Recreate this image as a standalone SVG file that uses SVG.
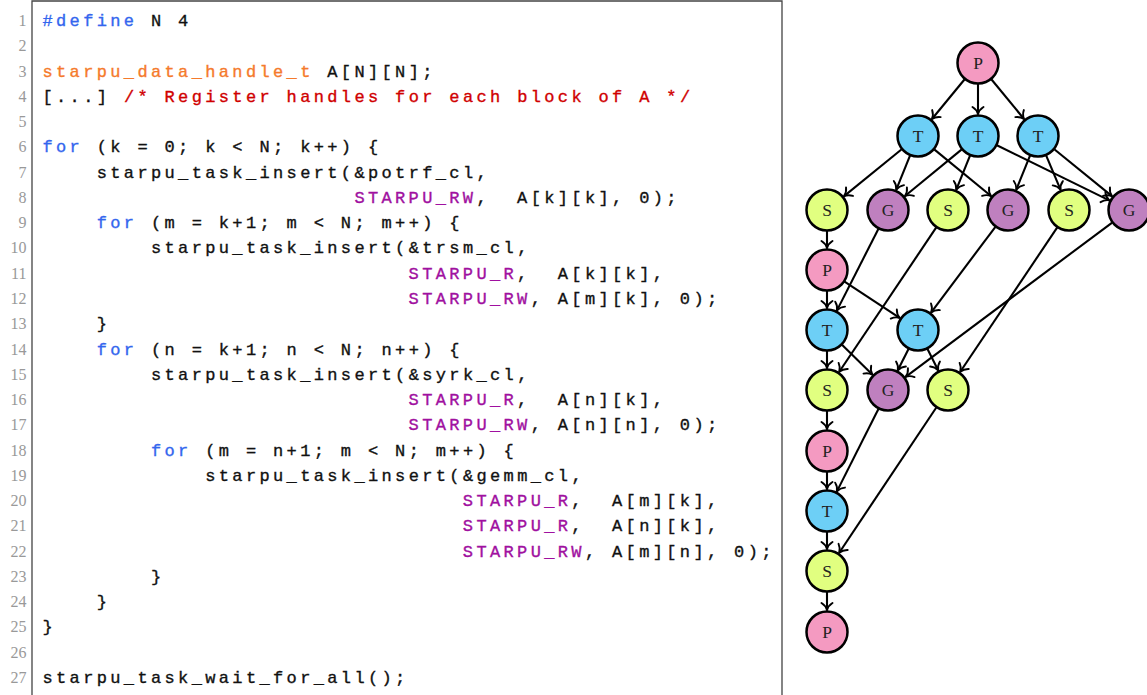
<svg xmlns="http://www.w3.org/2000/svg" width="1147" height="695" viewBox="0 0 1147 695">
<style>
.code{font-family:"Liberation Mono",monospace;font-size:17px;letter-spacing:3.36px;fill:#111;stroke:#111;stroke-width:0.35px;white-space:pre}
.code .kw{fill:#3366ee;stroke:#3366ee}
.code .ty{fill:#f57a2c;stroke:#f57a2c}
.code .cm{fill:#d00000;stroke:#d00000}
.code .mac{fill:#a010a0;stroke:#a010a0}
.ln{font-family:"Liberation Serif",serif;font-size:16px;fill:#999;text-anchor:end}
.frame{stroke:#444;stroke-width:1.3;fill:none}
.node circle{stroke:#000;stroke-width:2.5}
.node text{font-family:"Liberation Serif",serif;font-size:17.5px;fill:#222;text-anchor:middle;dominant-baseline:central}
.P{fill:#f49ac1}.T{fill:#6dcff6}.S{fill:#e1ff80}.G{fill:#bf80bf}
.edges line{stroke:#000;stroke-width:2.1;marker-end:url(#arr)}
</style>
<defs>
<marker id="arr" markerUnits="userSpaceOnUse" viewBox="-9 -7 10 14" refX="0" refY="0" markerWidth="10" markerHeight="14" orient="auto">
<path d="M -7,-5.5 C -5,-2.3 -2,-0.6 0,0 C -2,0.6 -5,2.3 -7,5.5" fill="none" stroke="#000" stroke-width="1.9" stroke-linecap="round"/>
</marker>
</defs>
<rect width="1147" height="695" fill="#fff"/>
<g id="code-frame">
<polyline class="frame" points="32,695 32,1 782,1 782,695"/>
</g>
<g id="line-numbers">
<text class="ln" x="26.5" y="26">1</text>
<text class="ln" x="26.5" y="51.27">2</text>
<text class="ln" x="26.5" y="76.54">3</text>
<text class="ln" x="26.5" y="101.81">4</text>
<text class="ln" x="26.5" y="127.08">5</text>
<text class="ln" x="26.5" y="152.35">6</text>
<text class="ln" x="26.5" y="177.62">7</text>
<text class="ln" x="26.5" y="202.89">8</text>
<text class="ln" x="26.5" y="228.16">9</text>
<text class="ln" x="26.5" y="253.43">10</text>
<text class="ln" x="26.5" y="278.7">11</text>
<text class="ln" x="26.5" y="303.97">12</text>
<text class="ln" x="26.5" y="329.24">13</text>
<text class="ln" x="26.5" y="354.51">14</text>
<text class="ln" x="26.5" y="379.78">15</text>
<text class="ln" x="26.5" y="405.05">16</text>
<text class="ln" x="26.5" y="430.32">17</text>
<text class="ln" x="26.5" y="455.59">18</text>
<text class="ln" x="26.5" y="480.86">19</text>
<text class="ln" x="26.5" y="506.13">20</text>
<text class="ln" x="26.5" y="531.4">21</text>
<text class="ln" x="26.5" y="556.67">22</text>
<text class="ln" x="26.5" y="581.94">23</text>
<text class="ln" x="26.5" y="607.21">24</text>
<text class="ln" x="26.5" y="632.48">25</text>
<text class="ln" x="26.5" y="657.75">26</text>
<text class="ln" x="26.5" y="683.02">27</text>
</g>
<g id="code" xml:space="preserve">
<text class="code" x="42.5" y="26"><tspan class="kw">#define</tspan> N 4</text>
<text class="code" x="42.5" y="76.54"><tspan class="ty">starpu_data_handle_t</tspan> A[N][N];</text>
<text class="code" x="42.5" y="101.81">[...] <tspan class="cm">/* Register handles for each block of A */</tspan></text>
<text class="code" x="42.5" y="152.35"><tspan class="kw">for</tspan> (k = 0; k &lt; N; k++) {</text>
<text class="code" x="96.74" y="177.62">starpu_task_insert(&amp;potrf_cl,</text>
<text class="code" x="354.38" y="202.89"><tspan class="mac">STARPU_RW</tspan>,  A[k][k], 0);</text>
<text class="code" x="96.74" y="228.16"><tspan class="kw">for</tspan> (m = k+1; m &lt; N; m++) {</text>
<text class="code" x="150.98" y="253.43">starpu_task_insert(&amp;trsm_cl,</text>
<text class="code" x="408.62" y="278.7"><tspan class="mac">STARPU_R</tspan>,  A[k][k],</text>
<text class="code" x="408.62" y="303.97"><tspan class="mac">STARPU_RW</tspan>, A[m][k], 0);</text>
<text class="code" x="96.74" y="329.24">}</text>
<text class="code" x="96.74" y="354.51"><tspan class="kw">for</tspan> (n = k+1; n &lt; N; n++) {</text>
<text class="code" x="150.98" y="379.78">starpu_task_insert(&amp;syrk_cl,</text>
<text class="code" x="408.62" y="405.05"><tspan class="mac">STARPU_R</tspan>,  A[n][k],</text>
<text class="code" x="408.62" y="430.32"><tspan class="mac">STARPU_RW</tspan>, A[n][n], 0);</text>
<text class="code" x="150.98" y="455.59"><tspan class="kw">for</tspan> (m = n+1; m &lt; N; m++) {</text>
<text class="code" x="205.22" y="480.86">starpu_task_insert(&amp;gemm_cl,</text>
<text class="code" x="462.86" y="506.13"><tspan class="mac">STARPU_R</tspan>,  A[m][k],</text>
<text class="code" x="462.86" y="531.4"><tspan class="mac">STARPU_R</tspan>,  A[n][k],</text>
<text class="code" x="462.86" y="556.67"><tspan class="mac">STARPU_RW</tspan>, A[m][n], 0);</text>
<text class="code" x="150.98" y="581.94">}</text>
<text class="code" x="96.74" y="607.21">}</text>
<text class="code" x="42.5" y="632.48">}</text>
<text class="code" x="42.5" y="683.02">starpu_task_wait_for_all();</text>
</g>
<g id="connectors" class="edges">
<line x1="964.67" y1="79.22" x2="931.97" y2="119.0"/>
<line x1="978" y1="84" x2="978" y2="114"/>
<line x1="991.33" y1="79.22" x2="1024.03" y2="119.0"/>
<line x1="901.71" y1="149.25" x2="844.07" y2="196.12"/>
<line x1="910.11" y1="155.46" x2="896.27" y2="189.61"/>
<line x1="934.22" y1="149.34" x2="991.01" y2="196.03"/>
<line x1="961.78" y1="149.34" x2="904.99" y2="196.03"/>
<line x1="970.11" y1="155.46" x2="956.27" y2="189.61"/>
<line x1="996.86" y1="145.24" x2="1109.24" y2="200.32"/>
<line x1="1030.11" y1="155.46" x2="1016.27" y2="189.61"/>
<line x1="1046.11" y1="155.37" x2="1060.5" y2="189.71"/>
<line x1="1054.29" y1="149.25" x2="1111.93" y2="196.12"/>
<line x1="827" y1="231" x2="827" y2="248"/>
<line x1="878.48" y1="228.72" x2="836.97" y2="310.39"/>
<line x1="936.28" y1="227.43" x2="839.27" y2="371.74"/>
<line x1="995.4" y1="226.8" x2="931.2" y2="312.4"/>
<line x1="1057.28" y1="227.43" x2="960.27" y2="371.74"/>
<line x1="1112.17" y1="222.57" x2="905.63" y2="376.84"/>
<line x1="827" y1="291" x2="827" y2="308"/>
<line x1="844.53" y1="281.56" x2="899.63" y2="317.89"/>
<line x1="827" y1="351" x2="827" y2="368"/>
<line x1="841.97" y1="344.73" x2="872.31" y2="374.57"/>
<line x1="908.61" y1="348.78" x2="897.84" y2="370.32"/>
<line x1="927.39" y1="348.78" x2="938.16" y2="370.32"/>
<line x1="827" y1="411" x2="827" y2="429"/>
<line x1="878.55" y1="408.75" x2="836.9" y2="491.35"/>
<line x1="936.33" y1="407.46" x2="839.23" y2="552.71"/>
<line x1="827" y1="472" x2="827" y2="489"/>
<line x1="827" y1="532" x2="827" y2="549"/>
<line x1="827" y1="592" x2="827" y2="610"/>
</g>
<g id="p0" class="node"><circle class="P" cx="978" cy="63" r="20.5"/><text x="978" y="63">P</text></g>
<g id="t1" class="node"><circle class="T" cx="918" cy="136" r="20.5"/><text x="918" y="136">T</text></g>
<g id="t2" class="node"><circle class="T" cx="978" cy="136" r="20.5"/><text x="978" y="136">T</text></g>
<g id="t3" class="node"><circle class="T" cx="1038" cy="136" r="20.5"/><text x="1038" y="136">T</text></g>
<g id="s1" class="node"><circle class="S" cx="827" cy="210" r="20.5"/><text x="827" y="210">S</text></g>
<g id="g1" class="node"><circle class="G" cx="888" cy="210" r="20.5"/><text x="888" y="210">G</text></g>
<g id="s2" class="node"><circle class="S" cx="948" cy="210" r="20.5"/><text x="948" y="210">S</text></g>
<g id="g2" class="node"><circle class="G" cx="1008" cy="210" r="20.5"/><text x="1008" y="210">G</text></g>
<g id="s3" class="node"><circle class="S" cx="1069" cy="210" r="20.5"/><text x="1069" y="210">S</text></g>
<g id="g3" class="node"><circle class="G" cx="1129" cy="210" r="20.5"/><text x="1129" y="210">G</text></g>
<g id="p1" class="node"><circle class="P" cx="827" cy="270" r="20.5"/><text x="827" y="270">P</text></g>
<g id="t4" class="node"><circle class="T" cx="827" cy="330" r="20.5"/><text x="827" y="330">T</text></g>
<g id="t5" class="node"><circle class="T" cx="918" cy="330" r="20.5"/><text x="918" y="330">T</text></g>
<g id="s4" class="node"><circle class="S" cx="827" cy="390" r="20.5"/><text x="827" y="390">S</text></g>
<g id="g4" class="node"><circle class="G" cx="888" cy="390" r="20.5"/><text x="888" y="390">G</text></g>
<g id="s5" class="node"><circle class="S" cx="948" cy="390" r="20.5"/><text x="948" y="390">S</text></g>
<g id="p2" class="node"><circle class="P" cx="827" cy="451" r="20.5"/><text x="827" y="451">P</text></g>
<g id="t6" class="node"><circle class="T" cx="827" cy="511" r="20.5"/><text x="827" y="511">T</text></g>
<g id="s6" class="node"><circle class="S" cx="827" cy="571" r="20.5"/><text x="827" y="571">S</text></g>
<g id="p3" class="node"><circle class="P" cx="827" cy="632" r="20.5"/><text x="827" y="632">P</text></g>
</svg>
